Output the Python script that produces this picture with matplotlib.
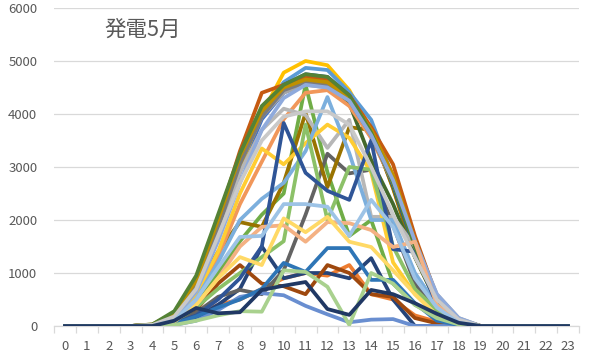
import matplotlib
matplotlib.use("Agg")
import matplotlib.pyplot as plt
import numpy as np

plt.rcParams['font.family'] = ['Noto Sans CJK JP', 'DejaVu Sans']

title = "発電5月"
hours = list(range(24))

# one list per day of May, hourly generation
d01 = [0,0,0,0,10,150,650,1700,2900,3900,4400,4650,4600,4300,3650,2700,1500,550,120,0,0,0,0,0]
d02 = [0,0,0,0,0,50,200,400,500,700,900,1000,950,1150,600,500,200,80,20,0,0,0,0,0]
d03 = [0,0,0,0,20,200,750,1800,3050,3950,4400,4550,4500,4200,3550,2700,1600,600,150,0,0,0,0,0]
d04 = [0,0,0,0,20,200,800,1850,3000,4000,4780,5000,4920,4450,3700,2600,1400,500,100,0,0,0,0,0]
d05 = [0,0,0,0,20,180,750,1900,3100,4000,4600,4870,4830,4410,3890,2800,1500,500,100,0,0,0,0,0]
d06 = [0,0,0,0,0,80,400,1000,1600,2100,2500,4550,2900,1700,2000,800,400,180,40,0,0,0,0,0]
d07 = [0,0,0,0,0,30,150,400,700,1500,900,1000,1000,900,1280,500,0,0,0,0,0,0,0,0]
d08 = [0,0,0,0,0,60,300,800,1150,800,750,600,1150,1000,600,550,150,50,0,0,0,0,0,0]
d09 = [0,0,0,0,0,50,250,550,680,600,1050,2100,3250,2880,2950,1900,800,300,60,0,0,0,0,0]
d10 = [0,0,0,0,20,200,700,1400,1960,1870,2700,4020,2620,3750,3700,2600,1300,450,80,0,0,0,0,0]
d11 = [0,0,0,0,20,180,780,1900,3150,4050,4550,4750,4700,4350,3650,2650,1450,480,100,0,0,0,0,0]
d12 = [0,0,0,0,20,220,850,1950,3150,4050,4500,4720,4650,4200,3130,2300,1300,450,90,0,0,0,0,0]
d13 = [0,0,0,0,0,20,100,300,550,620,580,380,220,70,120,130,0,0,0,0,0,0,0,0]
d14 = [0,0,0,0,10,120,500,1300,2300,3100,3900,4400,4450,4150,3550,2700,1600,550,120,0,0,0,0,0]
d15 = [0,0,0,0,20,200,750,1750,2900,3700,4100,3980,3360,3890,2060,2060,1500,550,120,0,0,0,0,0]
d16 = [0,0,0,0,10,150,600,1400,2500,3350,3050,3450,3800,3550,2900,1200,600,200,40,0,0,0,0,0]
d17 = [0,0,0,0,10,120,500,1200,2000,2400,2700,3300,4320,3260,2000,2000,1000,400,80,0,0,0,0,0]
d18 = [0,0,0,0,0,80,350,700,1000,1300,1600,3800,2000,3000,2950,1500,700,300,60,0,0,0,0,0]
d19 = [0,0,0,0,0,50,200,500,900,1500,3830,2890,2550,2380,3500,1450,1400,400,60,0,0,0,0,0]
d20 = [0,0,0,0,20,250,900,2000,3300,4400,4550,4700,4650,4350,3750,3050,1700,550,120,0,0,0,0,0]
d21 = [0,0,0,0,20,200,800,1850,3050,3950,4450,4600,4550,4250,3600,2700,1550,520,110,0,0,0,0,0]
d22 = [0,0,0,0,30,250,850,2000,3200,4050,4500,4650,4600,4300,3700,2850,1600,550,120,0,0,0,0,0]
d23 = [0,0,0,0,0,40,180,350,500,700,1190,1020,1470,1470,870,870,430,100,20,0,0,0,0,0]
d24 = [0,0,0,0,30,280,950,2100,3250,4150,4550,4750,4700,4350,3650,2700,1500,500,110,0,0,0,0,0]
d25 = [0,0,0,0,10,150,650,1600,2700,3700,4300,4550,4500,4250,3600,2750,1600,600,150,0,0,0,0,0]
d26 = [0,0,0,0,10,100,400,900,1500,1870,1900,1590,1960,1940,1810,1490,1590,400,80,0,0,0,0,0]
d27 = [0,0,0,0,20,180,700,1700,2700,3500,3950,4050,4050,3800,3000,2100,1300,500,120,0,0,0,0,0]
d28 = [0,0,0,0,0,80,400,900,1300,1150,2030,1770,2060,1590,1490,1050,600,200,40,0,0,0,0,0]
d29 = [0,0,0,0,0,100,500,1100,1680,1700,2300,2300,2250,1700,2380,1870,900,350,60,0,0,0,0,0]
d30 = [0,0,0,0,0,20,100,200,280,270,1050,1020,740,20,1000,800,400,150,30,0,0,0,0,0]
d31 = [0,0,0,0,0,100,340,240,260,680,760,830,320,210,680,600,430,230,60,0,0,0,0,0]

days = [d01,d02,d03,d04,d05,d06,d07,d08,d09,d10,d11,d12,d13,d14,d15,d16,
        d17,d18,d19,d20,d21,d22,d23,d24,d25,d26,d27,d28,d29,d30,d31]

colors = ['#4472C4','#ED7D31','#A5A5A5','#FFC000','#5B9BD5','#70AD47',
          '#264478','#9E480E','#636363','#997300','#255E91','#43682B',
          '#698ED0','#F1975A','#B7B7B7','#FFCD33','#7CAFDD','#8CC168',
          '#2F5597','#C55A11','#7B7B7B','#BF9000','#2E75B6','#548235',
          '#8FAADC','#F4B183','#C9C9C9','#FFD966','#9DC3E6','#A9D18E','#203864']

fig = plt.figure(figsize=(5.98, 3.57), dpi=100)
ax = fig.add_axes([54/598, 31/357, 525/598, 318/357])

for i, d in enumerate(days):
    ax.plot(hours, d, color=colors[i], lw=2.7, solid_joinstyle='round', zorder=3+i*0.01)

ax.set_xlim(-0.5, 23.5)
ax.set_ylim(0, 6000)
ax.set_yticks(range(0, 6001, 1000))
ax.set_xticks(hours)
ax.set_xticks(np.arange(-0.5, 24, 1), minor=True)
ax.grid(axis='y', color='#D9D9D9', lw=0.9, zorder=0)

for s in ['top', 'right', 'left']:
    ax.spines[s].set_visible(False)
ax.spines['bottom'].set_color('#D9D9D9')
ax.spines['bottom'].set_linewidth(0.9)

ax.tick_params(axis='y', length=0, pad=12, labelsize=9.5, labelcolor='#595959')
ax.tick_params(axis='x', which='major', length=0, pad=10, labelsize=9.5, labelcolor='#595959')
ax.tick_params(axis='x', which='minor', length=5, width=0.9, color='#D9D9D9')

fig.text(104/598, 1 - 30/357, title, fontsize=15.5, color='#595959', ha='left', va='center')

fig.savefig("out.png", dpi=100)
